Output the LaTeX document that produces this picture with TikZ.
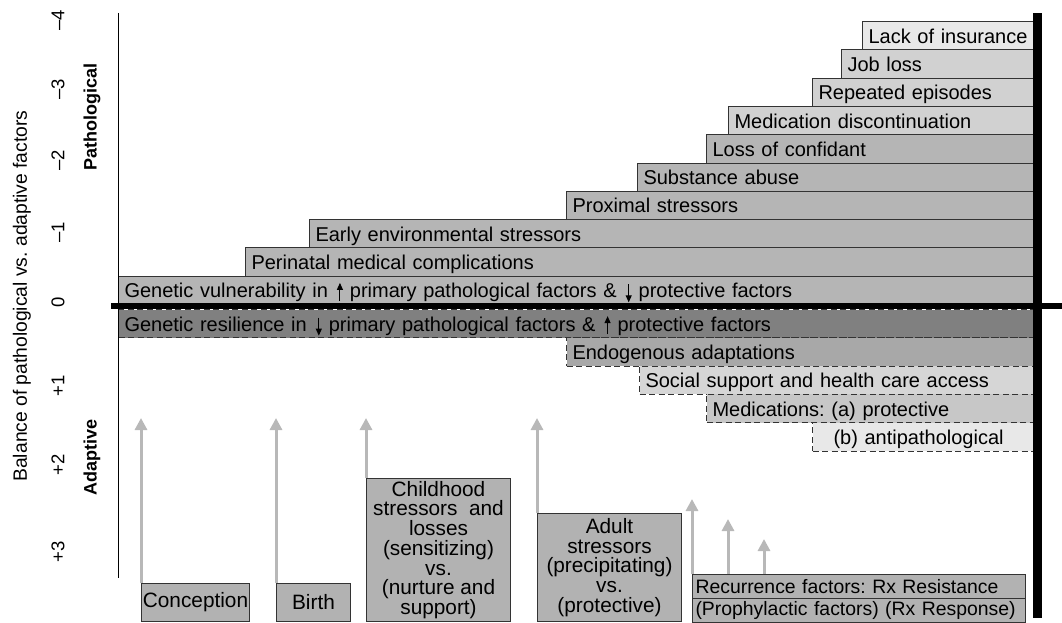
\documentclass[tikz,border=0pt]{standalone}
\usepackage{fontspec}
\setmainfont{Liberation Sans}
\usetikzlibrary{arrows.meta}
\definecolor{palefill}{gray}{0.91}
\definecolor{lightfill}{gray}{0.82}
\definecolor{midfill}{gray}{0.71}
\definecolor{darkfill}{gray}{0.50}
\definecolor{endofill}{gray}{0.66}
\definecolor{socfill}{gray}{0.84}
\definecolor{medfill}{gray}{0.78}
\definecolor{boxfill}{gray}{0.70}
\definecolor{arrowgray}{gray}{0.72}
\definecolor{edgegray}{gray}{0.2}
% small inline arrows for more/less
\newcommand{\riseicon}{\hspace{9pt}\tikz[baseline=0pt]\draw[solid, black, -{Triangle[length=7pt,width=6pt]}, line width=1.1pt] (0pt,-3pt) -- (0pt,15pt);\hspace{7pt}}
\newcommand{\dropicon}{\hspace{9pt}\tikz[baseline=0pt]\draw[solid, black, -{Triangle[length=7pt,width=6pt]}, line width=1.1pt] (0pt,13.5pt) -- (0pt,-4.5pt);\hspace{7pt}}
\frenchspacing

\begin{document}
\begin{tikzpicture}[
  x=1pt, y=-1pt,
  every node/.style = {font=\fontsize{20}{19.7}\selectfont},
  riskbar/.style  = {rectangle, draw=edgegray, line width=1pt, anchor=north west, minimum height=28.3pt, inner xsep=6pt, inner ysep=0pt, text height=15pt, text depth=0pt, align=left},
  pale/.style     = {riskbar, fill=palefill},
  light/.style    = {riskbar, fill=lightfill},
  mid/.style      = {riskbar, fill=midfill},
  adapt/.style    = {riskbar, dash pattern=on 6pt off 3.5pt},
  event/.style    = {rectangle, draw=edgegray, line width=1pt, fill=boxfill, anchor=north west, inner sep=0pt, align=center, font=\fontsize{20.8}{19.7}\selectfont},
  recbox/.style   = {event, minimum height=24pt, text width=327pt, inner xsep=3pt, align=left, font=\fontsize{19.4}{19.4}\selectfont},
  arr/.style      = {-{Triangle[length=12pt,width=12pt]}, line width=3pt, draw=arrowgray},
  tick/.style     = {rotate=90, font=\fontsize{18.5}{18.5}\selectfont},
  side/.style     = {rotate=90, font=\fontsize{18}{18}\selectfont\bfseries},
]
\useasboundingbox (0,0) rectangle (1062,623);
% Axis labels
\node[rotate=90, font=\fontsize{19.3}{19.3}\selectfont] (balance) at (22,296) {Balance of pathological vs. adaptive factors};
\node[tick] (tm4) at (58,20)  {\textendash 4};
\node[tick] (tm3) at (58,89)  {\textendash 3};
\node[tick] (tm2) at (58,160) {\textendash 2};
\node[tick] (tm1) at (58,232) {\textendash 1};
\node[tick] (t0)  at (58,302) {0};
\node[tick] (tp1) at (58,386) {+1};
\node[tick] (tp2) at (58,465) {+2};
\node[tick] (tp3) at (58,552) {+3};
\node[side] (patho) at (92,117) {Pathological};
\node[side] (adapt) at (92,457) {Adaptive};
% Pathological staircase
\node[pale, text width=159pt]  (insur)    at (862,21)    {Lack of insurance};
\node[light, text width=180pt] (jobloss)  at (841,49.3)  {Job loss};
\node[light, text width=209pt] (repeat)   at (812,77.6)  {Repeated episodes};
\node[light, text width=293pt] (meddisc)  at (728,105.9) {Medication discontinuation};
\node[mid, text width=315pt]   (confid)   at (706,134.2) {Loss of confidant};
\node[mid, text width=384pt]   (subst)    at (637,162.5) {Substance abuse};
\node[mid, text width=455pt]   (proxim)   at (566,190.8) {Proximal stressors};
\node[mid, text width=712pt]   (earlyenv) at (309,219.1) {Early environmental stressors};
\node[mid, text width=776pt]   (perinat)  at (245,247.4) {Perinatal medical complications};
\node[mid, text width=903pt]   (genvul)   at (118,275.7) {Genetic vulnerability in\riseicon primary pathological factors \&\dropicon protective factors};
% Adaptive staircase
\node[adapt, fill=darkfill, text width=903pt] (genres) at (118,309)   {Genetic resilience in\dropicon primary pathological factors \&\riseicon protective factors};
\node[adapt, fill=endofill, text width=455pt] (endog)  at (566,337.3) {Endogenous adaptations};
\node[adapt, fill=socfill, text width=382pt]  (social) at (639,365.6) {Social support and health care access};
\node[adapt, fill=medfill, text width=315pt]  (medic)  at (706,393.9) {Medications: (a) protective};
\node[adapt, fill=palefill, text width=209pt] (antip)  at (812,422.2) {\hspace*{15pt}(b) antipathological};
% Life events
\node[event, minimum width=108pt, minimum height=38pt]  (concep) at (141,583) {Conception};
\node[event, minimum width=74pt, minimum height=38pt]   (birth)  at (276,583) {Birth};
\node[event, minimum width=144pt, minimum height=143pt] (child)  at (366,478) {Childhood\\stressors\ \ and\\losses\\(sensitizing)\\vs.\\(nurture and\\support)};
\node[event, minimum width=144pt, minimum height=108pt] (adult)  at (537,513) {Adult\\stressors\\(precipitating)\\vs.\\(protective)};
\node[recbox] (recur)  at (692,574) {\mbox{Recurrence factors: Rx Resistance}};
\node[recbox] (prophy) at (692,598) {\mbox{(Prophylactic factors) (Rx Response)}};
% Arrow heads
\coordinate (tipconcep) at (141,418);
\coordinate (tipbirth)  at (276,418);
\coordinate (tipchild)  at (366,418);
\coordinate (tipadult)  at (537,418);
\coordinate (tiprec1)   at (692,499);
\coordinate (tiprec2)   at (728,519);
\coordinate (tiprec3)   at (764,539);
\draw[arr] (concep.north west) -- (tipconcep);
\draw[arr] (birth.north west) -- (tipbirth);
\draw[arr] (child.north west) -- (tipchild);
\draw[arr] (adult.north west) -- (tipadult);
\draw[arr] (recur.north west) -- (tiprec1);
\draw[arr] ([xshift=36pt]recur.north west) -- (tiprec2);
\draw[arr] ([xshift=72pt]recur.north west) -- (tiprec3);
% Axes
\draw[line width=1pt] (118,13) -- (118,578);
\fill (1033,13) rectangle (1042,618);
\draw[line width=6pt] (111,306) -- (1062,306);
\end{tikzpicture}
\end{document}
